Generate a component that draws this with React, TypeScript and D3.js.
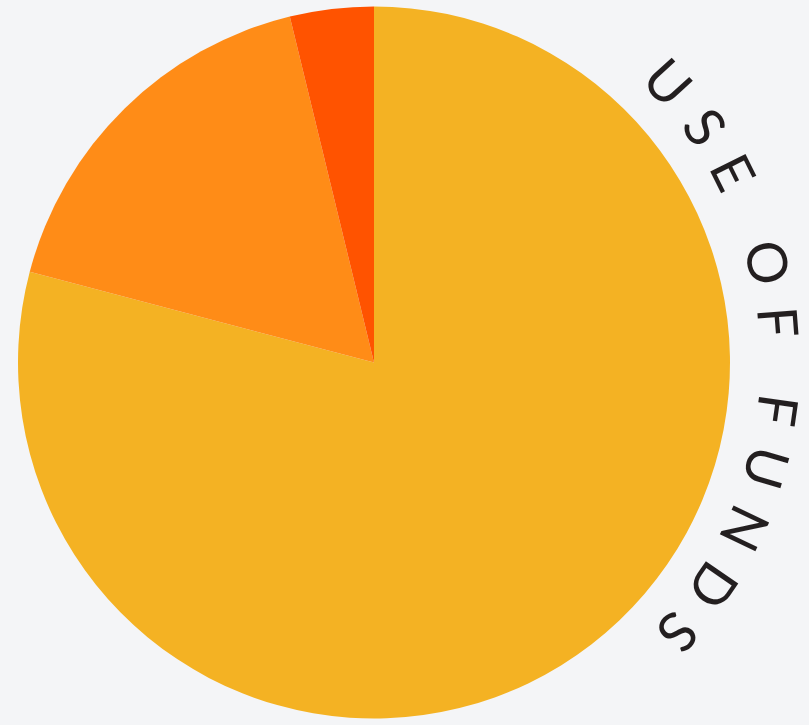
import { useEffect, useRef } from 'react';
import * as d3 from 'd3';

const categories = ['Product', 'Marketing', 'Reserve'];
const shares = [79.1, 17.1, 3.8];
const colors = ['#F4B223', '#FF8C17', '#FF5300'];
const title = 'USE OF FUNDS';

export default function App() {
  const svgRef = useRef<SVGSVGElement>(null);

  useEffect(() => {
    if (!svgRef.current) return;
    const width = 809;
    const height = 725;
    const cx = 374;
    const cy = 362.5;
    const radius = 356;
    const labelR = 386;

    const svg = d3.select(svgRef.current).attr('viewBox', `0 0 ${width} ${height}`);
    svg.selectAll('*').remove();

    const data = categories.map((c, i) => ({ name: c, value: shares[i] }));
    const color = d3.scaleOrdinal<string>().domain(categories).range(colors);

    const pie = d3.pie<{ name: string; value: number }>()
      .sort(null)
      .value(d => d.value);
    const arc = d3.arc<d3.PieArcDatum<{ name: string; value: number }>>()
      .innerRadius(0)
      .outerRadius(radius);

    const g = svg.append('g').attr('transform', `translate(${cx},${cy})`);
    g.selectAll('path.slice')
      .data(pie(data))
      .enter()
      .append('path')
      .attr('class', 'slice')
      .attr('d', arc)
      .attr('fill', d => color(d.data.name));

    // clockwise half circle on the right, text centred at 3 o'clock
    g.append('path')
      .attr('id', 'title-arc')
      .attr('d', `M0,${-labelR} A${labelR},${labelR} 0 0 1 0,${labelR}`)
      .attr('fill', 'none');

    g.append('text')
      .attr('font-family', 'Lato, "Open Sans", sans-serif')
      .attr('font-weight', 400)
      .attr('font-size', 55)
      .attr('letter-spacing', 20)
      .attr('fill', '#231F20')
      .append('textPath')
      .attr('href', '#title-arc')
      .attr('startOffset', '50%')
      .attr('text-anchor', 'middle')
      .text(title);
  }, []);

  return (
    <div style={{ position: 'fixed', inset: 0, background: '#F4F5F7' }}>
      <svg ref={svgRef} width={809} height={725} style={{ display: 'block' }} />
    </div>
  );
}
